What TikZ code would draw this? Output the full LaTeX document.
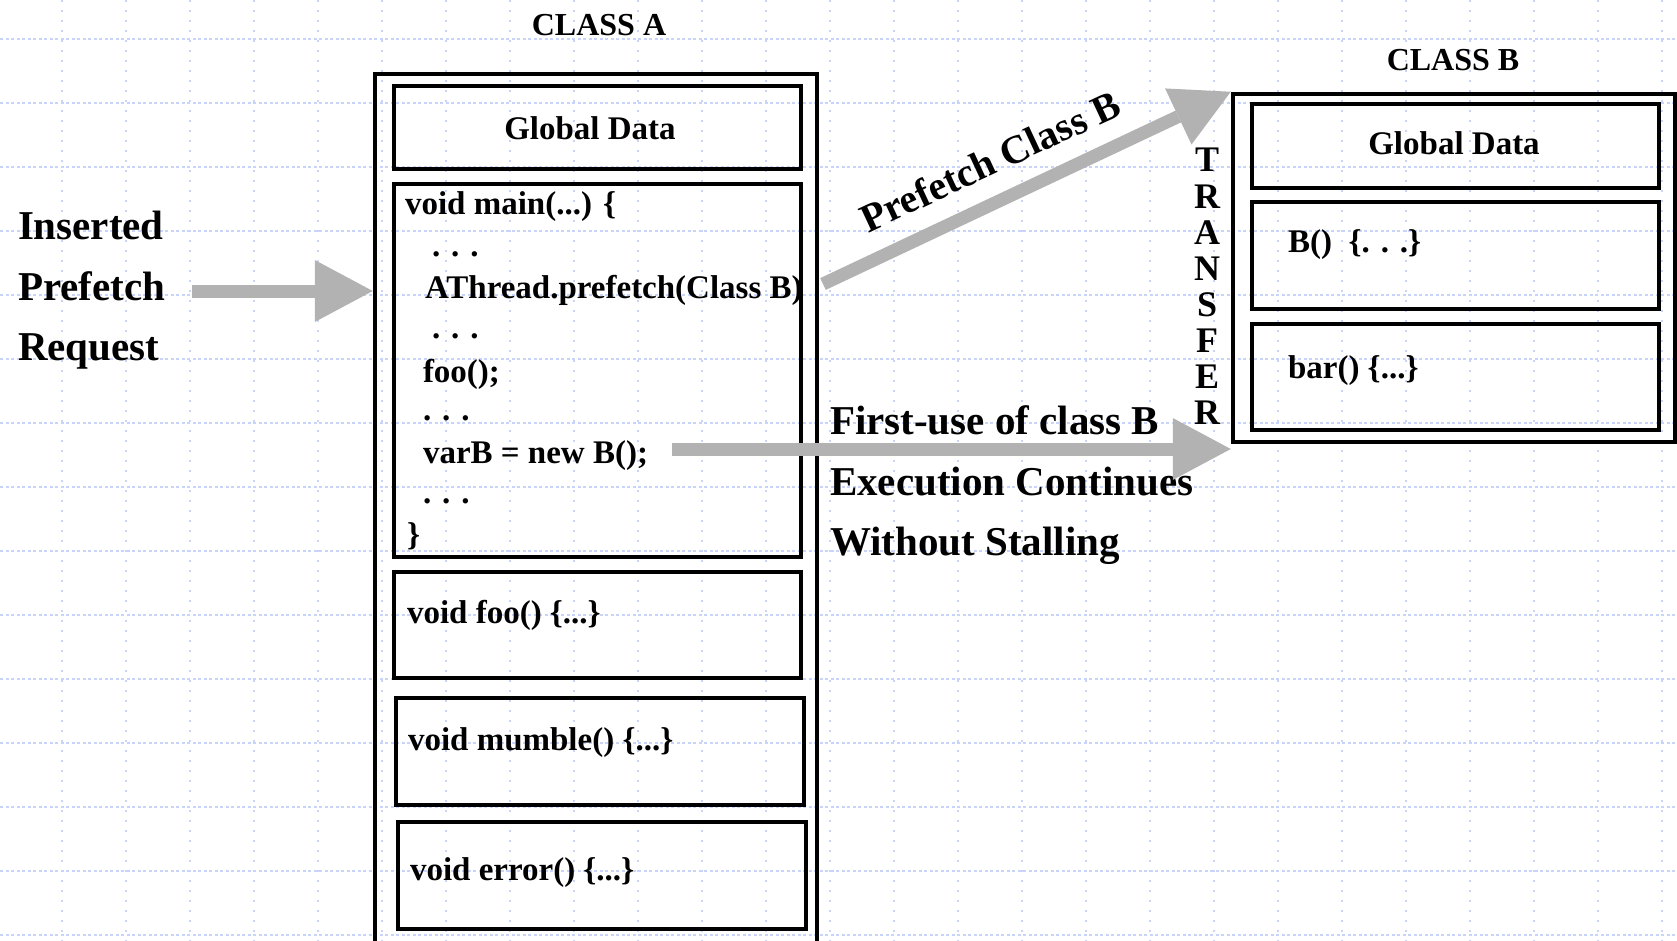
\documentclass[tikz,border=0pt]{standalone}
\usepackage{fontspec}
\setmainfont{Liberation Serif}
\usetikzlibrary{arrows.meta}
\definecolor{gridblue}{RGB}{200,212,250}
\definecolor{arrowgray}{RGB}{178,178,178}
\tikzset{
  box/.style={draw=black, line width=4.5pt, rectangle, inner sep=0pt},
  code/.style={inner sep=0pt, outer sep=0pt, anchor=base west, font=\bfseries\fontsize{33}{40}\selectfont},
  ctext/.style={inner sep=0pt, outer sep=0pt, anchor=center, font=\bfseries\fontsize{33}{40}\selectfont},
  ttl/.style={inner sep=0pt, outer sep=0pt, anchor=center, font=\bfseries\fontsize{32}{38}\selectfont},
  big/.style={inner sep=0pt, outer sep=0pt, anchor=base west, font=\bfseries\fontsize{41}{60}\selectfont},
  garrow/.style={draw=arrowgray, line width=13pt, -{Triangle[length=58pt,width=62pt,line width=0pt]}},
  gridv/.style={draw=gridblue, line width=2pt, dash pattern=on 2pt off 8pt},
  gridh/.style={draw=gridblue, line width=2pt, dash pattern=on 3pt off 2.5pt},
}
\begin{document}
\begin{tikzpicture}[x=1pt,y=-1pt]
\useasboundingbox (0,0) rectangle (1677,941);
\fill[white] (0,0) rectangle (1677,941);
% background grid
\foreach \x in {62,126,...,1662} \draw[gridv] (\x,0) -- (\x,941);
\foreach \y in {39,103,...,935} \draw[gridh] (0,\y) -- (1677,\y);

% titles
\node[ttl] (titleA) at (599,25) {CLASS A};
\node[ttl] (titleB) at (1453,60) {CLASS B};

% class A
\node[box, minimum width=442pt, minimum height=926pt] (outerA) at (596,537) {};
\node[box, minimum width=407pt, minimum height=83pt] (gdA) at (597.5,127.5) {};
\node[box, minimum width=407pt, minimum height=373pt] (mainA) at (597.5,370.5) {};
\node[box, minimum width=407pt, minimum height=106pt] (fooA) at (597.5,625) {};
\node[box, minimum width=408pt, minimum height=107pt] (mumbleA) at (600,751.5) {};
\node[box, minimum width=408pt, minimum height=107pt] (errorA) at (602,875.5) {};

\node[ctext] (gdAt) at (590,128) {Global Data};
\node[code] (m1) at (405,215) {void main(...) \{};
\node[code] (m2) at (432,257) {. . .};
\node[code] (m3) at (425,298) {AThread.prefetch(Class B)};
\node[code] (m4) at (432,338) {. . .};
\node[code] (m5) at (423,382) {foo();};
\node[code] (m6) at (423,420) {. . .};
\node[code] (m7) at (423,463) {varB = new B();};
\node[code] (m8) at (423,503) {. . .};
\node[code] (m9) at (407,545) {\}};
\node[code] (fooAt) at (407,623) {void foo() \{...\}};
\node[code] (mumbleAt) at (408,750) {void mumble() \{...\}};
\node[code] (errorAt) at (410,880) {void error() \{...\}};

% class B
\node[box, minimum width=442pt, minimum height=348pt] (outerB) at (1454,268) {};
\node[box, minimum width=407pt, minimum height=84pt] (gdB) at (1455.5,146) {};
\node[box, minimum width=407pt, minimum height=107pt] (bB) at (1455.5,255.5) {};
\node[box, minimum width=407pt, minimum height=106pt] (barB) at (1455.5,377) {};
\node[ctext] (gdBt) at (1454,143) {Global Data};
\node[code] (bBt) at (1288,252) {B()\ \ \{. . .\}};
\node[code] (barBt) at (1288,378) {bar() \{...\}};

% TRANSFER
\node[inner sep=0pt, align=center, font=\bfseries\fontsize{36}{36.1}\selectfont] (transfer) at (1207,286.5) {T\\R\\A\\N\\S\\F\\E\\R};

% left labels
\node[big] (ins1) at (18,240) {Inserted};
\node[big] (ins2) at (18,300) {Prefetch};
\node[big] (ins3) at (18,360) {Request};

% right labels
\node[big] (fu1) at (830,434) {First-use of class B};
\node[big] (fu2) at (830,495) {Execution Continues};
\node[big] (fu3) at (830,555) {Without Stalling};

% arrows
\coordinate (reqS) at (192,291);
\draw[garrow] (reqS) -- (reqS -| outerA.west);
\coordinate (pfS) at (823,284);
\draw[garrow] (pfS) -- (outerB.north west);
\coordinate (fuS) at (672,449);
\draw[garrow] (fuS) -- (fuS -| outerB.west);

\node[inner sep=0pt, rotate=25, font=\bfseries\fontsize{40}{48}\selectfont] (pflabel) at (990,161) {Prefetch Class B};
\end{tikzpicture}
\end{document}
